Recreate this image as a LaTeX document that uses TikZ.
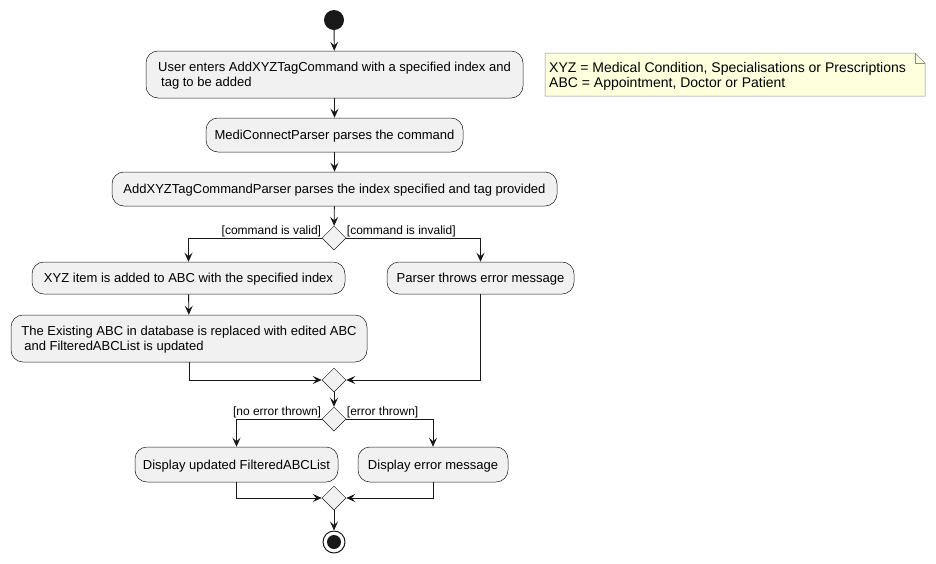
\documentclass[tikz,border=0pt]{standalone}
\usepackage{fontspec}
\setmainfont{Liberation Sans}
\usetikzlibrary{arrows.meta,shapes.geometric}

\definecolor{actfill}{HTML}{F1F1F1}
\definecolor{actline}{HTML}{181818}
\definecolor{notefill}{HTML}{FEFFDD}
\definecolor{noteline}{HTML}{8A8A8A}

\begin{document}
\begin{tikzpicture}[x=1pt,y=-1pt,
    action/.style={draw=actline,line width=0.5pt,fill=actfill,rounded corners=12pt,
        inner sep=0pt,text depth=0pt,font=\fontsize{13}{15.5}\selectfont},
    choice/.style={diamond,draw=actline,line width=0.5pt,fill=actfill,inner sep=0pt,
        minimum width=24pt,minimum height=24pt},
    guard/.style={inner sep=0.5pt,font=\fontsize{12}{13}\selectfont},
    flow/.style={draw=actline,line width=0.9pt,
        -{Stealth[length=9pt,width=8pt,inset=3.5pt]}}]
    \useasboundingbox (0,0) rectangle (936,563);
    %% Start
    \node[circle,fill=actline,minimum size=20pt,inner sep=0pt] (start) at (334,20) {};
    %% Actions
    \node[action,minimum width=377pt,minimum height=47pt,align=left]
        (enter) at (334.5,74.5) {User enters AddXYZTagCommand with a specified index and\\\hspace*{3pt}tag to be added};
    \node[action,minimum width=257pt,minimum height=34pt] (mediparse) at (334.5,135)
        {MediConnectParser parses the command};
    \node[action,minimum width=445pt,minimum height=34pt] (tagparse) at (334.5,189)
        {AddXYZTagCommandParser parses the index specified and tag provided};
    \node[choice] (valid) at (334,238) {};
    \node[action,minimum width=313pt,minimum height=32pt] (additem) at (188.5,278)
        {XYZ item is added to ABC with the specified index};
    \node[action,minimum width=187pt,minimum height=32pt] (parseerr) at (480.5,278)
        {Parser throws error message};
    \node[action,minimum width=356pt,minimum height=47pt,align=left]
        (replace) at (189,338.5) {The Existing ABC in database is replaced with edited ABC\\\hspace*{3pt}and FilteredABCList is updated};
    \node[choice] (mergeone) at (334,380) {};
    \node[choice] (thrown) at (334,419) {};
    \node[action,minimum width=203pt,minimum height=35pt] (showlist) at (236.5,464.5)
        {Display updated FilteredABCList};
    \node[action,minimum width=150pt,minimum height=35pt] (showerr) at (433,464.5)
        {Display error message};
    \node[choice] (mergetwo) at (334,498) {};
    %% Stop
    \node[circle,draw=actline,line width=1pt,fill=white,minimum size=22pt,inner sep=0pt] (stop) at (334,542) {};
    \fill[actline] (stop.center) circle (7pt);
    %% Connectors
    \draw[flow] (start) -- (enter);
    \draw[flow] (enter) -- (mediparse);
    \draw[flow] (mediparse) -- (tagparse);
    \draw[flow] (tagparse) -- (valid);
    \draw[flow] (valid.west) -| (additem.north);
    \draw[flow] (valid.east) -| (parseerr.north);
    \node[guard,anchor=south east] (validtxt) at (valid.west) {[command is valid]};
    \node[guard,anchor=south west] (invalidtxt) at (valid.east) {[command is invalid]};
    \draw[flow] (additem) -- (replace);
    \draw[flow] (replace.south) |- (mergeone.west);
    \draw[flow] (parseerr.south) |- (mergeone.east);
    \draw[flow] (mergeone) -- (thrown);
    \draw[flow] (thrown.west) -| (showlist.north);
    \draw[flow] (thrown.east) -| (showerr.north);
    \node[guard,anchor=south east] (noerrtxt) at (thrown.west) {[no error thrown]};
    \node[guard,anchor=south west] (errtxt) at (thrown.east) {[error thrown]};
    \draw[flow] (showlist.south) |- (mergetwo.west);
    \draw[flow] (showerr.south) |- (mergetwo.east);
    \draw[flow] (mergetwo) -- (stop);
    %% Note
    \draw[noteline,line width=0.5pt,fill=notefill] (545,53) -- (915,53) -- (925,63)
        -- (925,96) -- (545,96) -- cycle;
    \draw[noteline,line width=0.5pt] (915,53) -- (915,63) -- (925,63);
    \node[anchor=west,align=left,inner sep=0pt,font=\fontsize{14}{15}\selectfont] (legend) at (549,76)
        {XYZ = Medical Condition, Specialisations or Prescriptions\\ABC = Appointment, Doctor or Patient};
\end{tikzpicture}
\end{document}
